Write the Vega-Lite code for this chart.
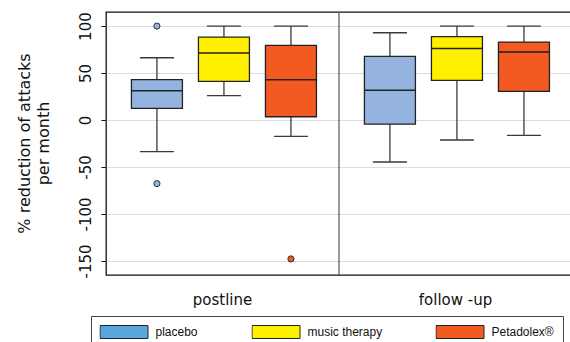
{
  "$schema": "https://vega.github.io/schema/vega-lite/v6.json",
  "width": 466,
  "height": 263,
  "autosize": {"type": "none"},
  "padding": {"left": 106, "top": 12, "right": -2, "bottom": 67},
  "background": "white",
  "config": {
    "font": "DejaVu Sans",
    "view": {"stroke": "#111", "strokeWidth": 1.3}
  },
  "datasets": {
    "boxes": [
      {"period": "postline", "group": "placebo", "lower": -33.7, "q1": 12.4, "median": 31.2, "q3": 42.9, "upper": 66.3},
      {"period": "postline", "group": "music therapy", "lower": 25.9, "q1": 41.1, "median": 71.3, "q3": 88.3, "upper": 100},
      {"period": "postline", "group": "Petadolex®", "lower": -17.4, "q1": 3.5, "median": 42.9, "q3": 79.4, "upper": 100},
      {"period": "follow -up", "group": "placebo", "lower": -44.7, "q1": -4.3, "median": 31.6, "q3": 67.7, "upper": 92.9},
      {"period": "follow -up", "group": "music therapy", "lower": -21.3, "q1": 42.2, "median": 76.2, "q3": 88.7, "upper": 100},
      {"period": "follow -up", "group": "Petadolex®", "lower": -16.3, "q1": 30.5, "median": 72.3, "q3": 83, "upper": 100}
    ],
    "outliers": [
      {"period": "postline", "group": "placebo", "value": 100},
      {"period": "postline", "group": "placebo", "value": -67.7},
      {"period": "postline", "group": "Petadolex®", "value": -147.9}
    ],
    "divider": [{"period": "follow -up"}]
  },
  "layer": [
    {
      "data": {"name": "boxes"},
      "encoding": {
        "x": {
          "field": "period", "type": "nominal", "title": null,
          "sort": ["postline", "follow -up"],
          "scale": {"domain": ["postline", "follow -up"], "paddingInner": 0, "paddingOuter": 0},
          "axis": {
            "domain": false, "ticks": false, "grid": false, "labelAngle": 0,
            "labelPadding": 17, "labelFontSize": 15, "labelColor": "#111",
            "labelFont": "DejaVu Sans", "labelBaseline": "top"
          }
        },
        "xOffset": {
          "field": "group", "type": "nominal",
          "scale": {"domain": ["placebo", "music therapy", "Petadolex®"], "paddingInner": 0.239, "paddingOuter": 0.358, "align": 0.53}
        }
      },
      "layer": [
        {
          "mark": {"type": "rule", "color": "#3a3a3a", "strokeWidth": 1.3},
          "encoding": {
            "y": {
              "field": "lower", "type": "quantitative",
              "scale": {"domain": [-165, 115], "nice": false, "zero": false},
              "axis": {
                "title": ["% reduction of attacks", "per month"],
                "values": [-150, -100, -50, 0, 50, 100],
                "domain": false, "tickSize": 5, "tickColor": "#111", "tickWidth": 1,
                "grid": true, "gridColor": "#DCDCDC", "gridWidth": 1,
                "labelAngle": -90, "labelAlign": "center", "labelBaseline": "bottom",
                "labelPadding": 8, "labelFontSize": 15, "labelColor": "#111",
                "labelFont": "DejaVu Sans", "labelOverlap": false,
                "labelExpr": "datum.value < 0 ? '-' + abs(datum.value) : '' + datum.value",
                "titleFont": "DejaVu Sans", "titleFontSize": 16, "titleFontWeight": "normal",
                "titleColor": "#111", "titleAngle": -90, "titleX": -90, "titleY": 131,
                "titleAlign": "center", "titleBaseline": "top", "titleLineHeight": 19
              }
            },
            "y2": {"field": "upper"}
          }
        },
        {
          "mark": {"type": "tick", "size": 34, "thickness": 1.3, "color": "#3a3a3a", "opacity": 1},
          "encoding": {"y": {"field": "lower", "type": "quantitative"}}
        },
        {
          "mark": {"type": "tick", "size": 34, "thickness": 1.3, "color": "#3a3a3a", "opacity": 1},
          "encoding": {"y": {"field": "upper", "type": "quantitative"}}
        },
        {
          "mark": {"type": "bar", "strokeWidth": 1.3, "opacity": 1},
          "encoding": {
            "y": {"field": "q1", "type": "quantitative"},
            "y2": {"field": "q3"},
            "fill": {
              "field": "group", "type": "nominal", "legend": null,
              "scale": {"domain": ["placebo", "music therapy", "Petadolex®"], "range": ["#94B3DE", "#FFF000", "#F25A22"]}
            },
            "stroke": {
              "field": "group", "type": "nominal",
              "sort": ["placebo", "music therapy", "Petadolex®"],
              "scale": {"range": ["#222222", "#222222", "#222222"]},
              "legend": {
                "orient": "none", "legendX": -15, "legendY": 304,
                "direction": "horizontal", "columns": 3, "title": null,
                "symbolType": "M-1,-0.27H1V0.27H-1Z", "symbolSize": 2304, "clipHeight": 15,
                "symbolStrokeWidth": 1, "symbolOpacity": 1,
                "labelFont": "Liberation Sans", "labelFontSize": 12, "labelColor": "#111",
                "labelOffset": 7, "labelLimit": 200, "columnPadding": 53,
                "padding": 8.5, "strokeColor": "#444", "fillColor": "white",
                "encoding": {
                  "symbols": {
                    "fill": {"value": {"expr": "datum.value === 'placebo' ? '#5AA7E0' : datum.value === 'music therapy' ? '#FFF000' : '#F25A22'"}},
                    "fillOpacity": {"value": 1}
                  }
                }
              }
            }
          }
        },
        {
          "mark": {"type": "tick", "size": 51, "thickness": 1.5, "color": "#222", "opacity": 1},
          "encoding": {"y": {"field": "median", "type": "quantitative"}}
        }
      ]
    },
    {
      "data": {"name": "divider"},
      "mark": {"type": "rule", "color": "#555", "strokeWidth": 1.2},
      "encoding": {
        "x": {"field": "period", "type": "nominal", "bandPosition": 0}
      }
    },
    {
      "data": {"name": "outliers"},
      "mark": {"type": "point", "filled": true, "size": 38, "stroke": "#333", "strokeWidth": 1, "opacity": 1},
      "encoding": {
        "x": {"field": "period", "type": "nominal"},
        "xOffset": {"field": "group", "type": "nominal"},
        "y": {"field": "value", "type": "quantitative"},
        "color": {
          "field": "group", "type": "nominal", "legend": null,
          "scale": {"domain": ["placebo", "music therapy", "Petadolex®"], "range": ["#94B3DE", "#FFF000", "#F25A22"]}
        }
      }
    }
  ]
}
